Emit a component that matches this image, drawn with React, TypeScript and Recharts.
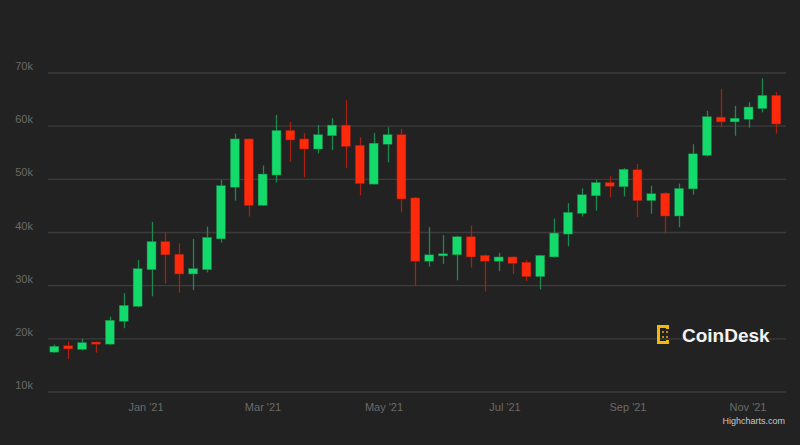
import React from "react";
import { ComposedChart, Bar, XAxis, YAxis, CartesianGrid } from "recharts";

const weeks = [
  "2020-11-16", "2020-11-23", "2020-11-30", "2020-12-07", "2020-12-14", "2020-12-21", "2020-12-28",
  "2021-01-04", "2021-01-11", "2021-01-18", "2021-01-25", "2021-02-01", "2021-02-08", "2021-02-15",
  "2021-02-22", "2021-03-01", "2021-03-08", "2021-03-15", "2021-03-22", "2021-03-29", "2021-04-05",
  "2021-04-12", "2021-04-19", "2021-04-26", "2021-05-03", "2021-05-10", "2021-05-17", "2021-05-24",
  "2021-05-31", "2021-06-07", "2021-06-14", "2021-06-21", "2021-06-28", "2021-07-05", "2021-07-12",
  "2021-07-19", "2021-07-26", "2021-08-02", "2021-08-09", "2021-08-16", "2021-08-23", "2021-08-30",
  "2021-09-06", "2021-09-13", "2021-09-20", "2021-09-27", "2021-10-04", "2021-10-11", "2021-10-18",
  "2021-10-25", "2021-11-01", "2021-11-08", "2021-11-15",
];

const opens = [
  17500, 18700, 18000, 19400, 19000, 23300, 26100, 33000, 38300, 35900, 32200, 33000, 38800, 48500,
  57600, 45100, 50800, 59200, 57600, 55700, 58200, 60200, 56400, 49100, 56600, 58400, 46500, 34600,
  35600, 35800, 39200, 35700, 34600, 35400, 34400, 31700, 35400, 39700, 43600, 46900, 49400, 48600,
  51800, 46000, 47400, 43100, 48200, 54500, 61700, 60800, 61300, 63300, 65800,
];
const highs = [
  18900, 19500, 20000, 19500, 24200, 28600, 34800, 42000, 40100, 38000, 38800, 41100, 49900, 58600,
  57700, 52600, 62100, 60800, 58700, 60200, 61500, 64900, 57900, 58700, 59800, 59500, 46700, 41000,
  39500, 39400, 41300, 35900, 36200, 35500, 34800, 35800, 42600, 45500, 48300, 49900, 50600, 52100,
  52900, 48800, 47600, 49200, 56600, 62900, 67000, 63800, 64500, 69000, 66400,
];
const lows = [
  17300, 16200, 17800, 17400, 18800, 22000, 25900, 28000, 30400, 28700, 29200, 32500, 38100, 46000,
  43000, 45000, 49400, 53300, 50400, 54900, 55500, 52100, 47000, 49000, 53200, 43800, 30000, 33600,
  34100, 31000, 33400, 28900, 32700, 32200, 30900, 29300, 35300, 37400, 43000, 44100, 46600, 46800,
  42900, 43500, 39800, 41000, 47100, 54300, 59800, 58200, 59700, 62600, 58600,
];
const closes = [
  18600, 18100, 19300, 19000, 23500, 26300, 33200, 38300, 35800, 32200, 33200, 39100, 48800, 57600,
  45100, 51000, 59200, 57400, 55700, 58400, 60200, 56200, 49200, 56800, 58400, 46300, 34600, 35800,
  36000, 39200, 35400, 34600, 35400, 34200, 31700, 35700, 39900, 43800, 47100, 49400, 48700, 51900,
  46000, 47300, 43100, 48300, 54800, 61800, 60800, 61500, 63600, 65800, 60400,
];

const yTicks = [10000, 20000, 30000, 40000, 50000, 60000, 70000];
const xTickDates = ["2021-01-01", "2021-03-01", "2021-05-01", "2021-07-01", "2021-09-01", "2021-11-01"];
const xTickLabels = ["Jan '21", "Mar '21", "May '21", "Jul '21", "Sep '21", "Nov '21"];
const xDomainDates = ["2020-11-12T14:00:00Z", "2021-11-19T16:00:00Z"];

const data = weeks.map((w, i) => ({
  t: new Date(w).getTime(),
  open: opens[i],
  high: highs[i],
  low: lows[i],
  close: closes[i],
  range: [lows[i], highs[i]],
}));

const xTicks = xTickDates.map((d) => new Date(d).getTime());
const xDomain = xDomainDates.map((d) => new Date(d).getTime());

const UP = "#14da6c";
const DOWN = "#ff2a0c";
const UP_WICK = "#1c8a4c";
const DOWN_WICK = "#a8200e";

const Candle = (props: any) => {
  const { x, y, width, height, payload } = props;
  if (!payload) return null;
  const { open, close, high, low } = payload;
  const top = Math.min(y, y + height);
  const h = Math.abs(height);
  const span = high - low || 1;
  const py = (p: number) => top + ((high - p) / span) * h;
  const up = close >= open;
  const bodyTop = py(Math.max(open, close));
  const bodyBot = py(Math.min(open, close));
  const cx = Math.round(x + width / 2) + 0.5;
  return (
    <g>
      <line x1={cx} x2={cx} y1={top} y2={top + h} stroke={up ? UP_WICK : DOWN_WICK} strokeWidth={1.3} />
      <rect
        x={x}
        y={bodyTop}
        width={width}
        height={Math.max(bodyBot - bodyTop, 1.5)}
        fill={up ? UP : DOWN}
        stroke={up ? "#1a7a44" : "#9a2010"}
        strokeWidth={0.5}
      />
    </g>
  );
};

const YTick = (props: any) => {
  const { y, payload } = props;
  return (
    <text x={33} y={y - 3} textAnchor="end" fill="#6a6a6a" fontSize={11} fontFamily="Liberation Sans, Arial, sans-serif">
      {payload.value / 1000 + "k"}
    </text>
  );
};

const XTick = (props: any) => {
  const { x, payload } = props;
  const idx = xTicks.indexOf(payload.value);
  return (
    <text x={x} y={411} textAnchor="middle" fill="#6a6a6a" fontSize={11} fontFamily="Liberation Sans, Arial, sans-serif">
      {idx >= 0 ? xTickLabels[idx] : ""}
    </text>
  );
};

const Logo = () => (
  <svg width={20} height={22} viewBox="0 0 20 22" style={{ position: "absolute", left: 655, top: 323 }}>
    <g fill="#f4b70c">
      <rect x={2} y={2} width={12} height={3} />
      <rect x={2} y={2} width={3} height={19} />
      <rect x={2} y={18} width={12} height={3} />
      <rect x={11} y={2} width={3} height={4} />
      <rect x={11} y={17} width={3} height={4} />
    </g>
    <g fill="#b88a10">
      <rect x={7} y={8} width={2} height={2} />
      <rect x={11} y={8} width={2} height={2} />
      <rect x={7} y={13} width={2} height={2} />
      <rect x={11} y={13} width={2} height={2} />
    </g>
  </svg>
);

export default function App() {
  return (
    <div style={{ position: "absolute", left: 0, top: 0, width: 800, height: 445, background: "#222222", overflow: "hidden" }}>
      <ComposedChart width={800} height={445} data={data} margin={{ top: 73, right: 14, bottom: 0, left: 0 }}>
        <CartesianGrid horizontal vertical={false} stroke="#3c3c3c" strokeWidth={1.3} />
        <XAxis
          dataKey="t"
          type="number"
          scale="time"
          domain={xDomain}
          ticks={xTicks}
          tick={<XTick />}
          axisLine={false}
          tickLine={false}
          height={53}
          allowDataOverflow
        />
        <YAxis
          type="number"
          domain={[10000, 70000]}
          ticks={yTicks}
          tick={<YTick />}
          axisLine={false}
          tickLine={false}
          width={48}
          allowDataOverflow
        />
        <Bar dataKey="range" barSize={9} shape={<Candle />} isAnimationActive={false} />
      </ComposedChart>
      <Logo />
      <div
        style={{
          position: "absolute",
          left: 682,
          top: 325,
          color: "#f2f2f2",
          fontFamily: "Liberation Sans, Arial, sans-serif",
          fontWeight: 700,
          fontSize: 19,
          lineHeight: "22px",
        }}
      >
        CoinDesk
      </div>
      <div
        style={{
          position: "absolute",
          right: 15,
          top: 415,
          color: "#c8c8c8",
          fontFamily: "Liberation Sans, Arial, sans-serif",
          fontSize: 9,
          lineHeight: "12px",
        }}
      >
        Highcharts.com
      </div>
    </div>
  );
}
